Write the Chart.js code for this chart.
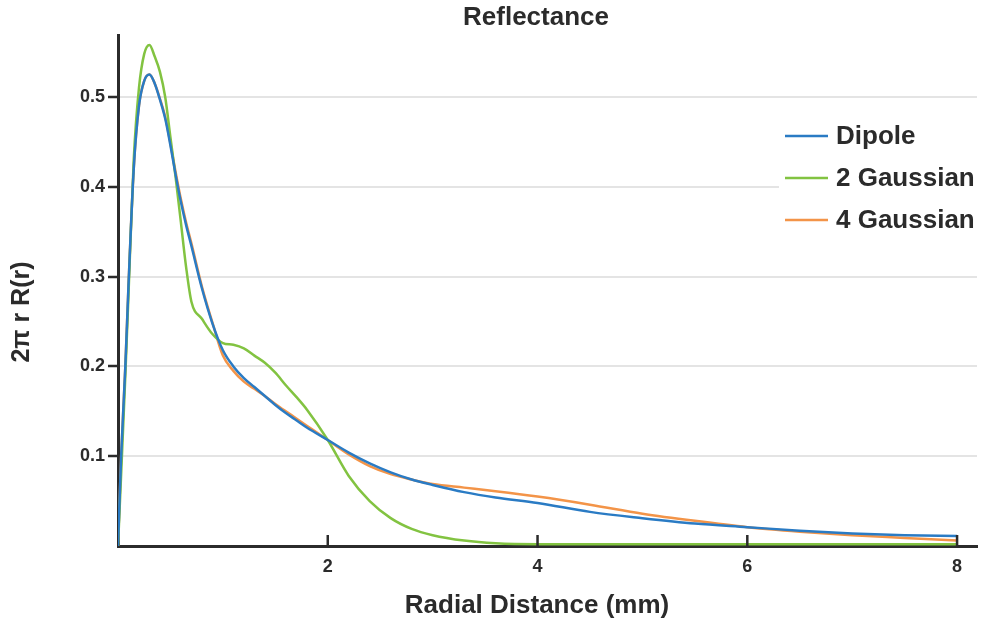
<!DOCTYPE html>
<html>
<head>
<meta charset="utf-8">
<title>Reflectance</title>
<script src="https://cdn.jsdelivr.net/npm/chart.js@4.4.1/dist/chart.umd.min.js"></script>
<style>
  html, body { margin: 0; padding: 0; background: #fff; }
  #wrap { width: 983px; height: 622px; }
</style>
</head>
<body>
<div id="wrap"><canvas id="chart" width="983" height="622"></canvas></div>
<script>
// radial distance (mm), shared by all three curves
var radius = [0, 0.03, 0.07, 0.1, 0.15, 0.2, 0.25, 0.3, 0.35, 0.4, 0.45, 0.5, 0.55, 0.6, 0.65, 0.7,
              0.8, 0.9, 1.0, 1.1, 1.2, 1.3, 1.4, 1.5, 1.6, 1.7, 1.8, 2.0, 2.2, 2.4, 2.6, 2.8, 3.0,
              3.3, 3.6, 4.0, 4.5, 5.0, 5.5, 6.0, 6.5, 7.0, 7.5, 8.0];

var dipole = [0, 0.10, 0.20, 0.29, 0.42, 0.49, 0.518, 0.525, 0.515, 0.497, 0.476, 0.446, 0.413, 0.383, 0.357, 0.334,
              0.287, 0.248, 0.218, 0.200, 0.187, 0.177, 0.167, 0.157, 0.148, 0.140, 0.132, 0.118, 0.104, 0.092, 0.082, 0.074, 0.068,
              0.060, 0.054, 0.048, 0.038, 0.031, 0.025, 0.021, 0.017, 0.014, 0.012, 0.011];

var gauss2 = [0, 0.08, 0.19, 0.28, 0.43, 0.51, 0.548, 0.558, 0.545, 0.528, 0.50, 0.455, 0.41, 0.36, 0.31, 0.272,
              0.253, 0.236, 0.226, 0.224, 0.220, 0.212, 0.204, 0.193, 0.179, 0.166, 0.152, 0.118, 0.078, 0.050, 0.031, 0.019, 0.012,
              0.006, 0.003, 0.002, 0.002, 0.002, 0.002, 0.002, 0.002, 0.002, 0.002, 0.002];

var gauss4 = [0, 0.10, 0.20, 0.29, 0.42, 0.49, 0.518, 0.525, 0.515, 0.498, 0.478, 0.448, 0.416, 0.386, 0.360, 0.337,
              0.289, 0.249, 0.212, 0.195, 0.183, 0.175, 0.167, 0.158, 0.150, 0.142, 0.134, 0.118, 0.102, 0.089, 0.080, 0.074, 0.069,
              0.065, 0.061, 0.055, 0.046, 0.036, 0.028, 0.021, 0.016, 0.012, 0.009, 0.006];

var seriesNames = ["Dipole", "2 Gaussian", "4 Gaussian"];
var xTickValues = [2, 4, 6, 8];
var yTickValues = [0.1, 0.2, 0.3, 0.4, 0.5];

var FONT = "'Liberation Sans', Arial, Helvetica, sans-serif";
var INK = "#2b2b2b";

function toPoints(ys) {
    return radius.map(function (r, i) { return { x: r, y: ys[i] }; });
}

// ticks on the x axis point up into the plot
var innerTicks = {
    id: "innerTicks",
    afterDraw: function (chart) {
        var ctx = chart.ctx, xs = chart.scales.x, bottom = chart.chartArea.bottom;
        ctx.save();
        ctx.strokeStyle = INK;
        ctx.lineWidth = 2.5;
        xTickValues.forEach(function (v) {
            var px = xs.getPixelForValue(v);
            ctx.beginPath();
            ctx.moveTo(px, bottom);
            ctx.lineTo(px, bottom - 11);
            ctx.stroke();
        });
        ctx.restore();
    }
};

// chart title and axis titles, placed like the original figure
var titles = {
    id: "titles",
    afterDraw: function (chart) {
        var ctx = chart.ctx;
        ctx.save();
        ctx.fillStyle = INK;
        ctx.textAlign = "center";
        ctx.textBaseline = "middle";
        ctx.font = "bold 26px " + FONT;
        ctx.fillText("Reflectance", 536, 18);
        ctx.fillText("Radial Distance (mm)", 537, 606);
        ctx.translate(22, 312);
        ctx.rotate(-Math.PI / 2);
        ctx.font = "bold 25px " + FONT;
        ctx.fillText("2π r R(r)", 0, 0);
        ctx.restore();
    }
};

// legend drawn inside the plot, top right
var insideLegend = {
    id: "insideLegend",
    afterDraw: function (chart) {
        var ctx = chart.ctx;
        ctx.save();
        ctx.fillStyle = "#fff";
        ctx.fillRect(779, 112, 204, 130);
        ctx.font = "bold 26px " + FONT;
        ctx.textBaseline = "middle";
        chart.data.datasets.forEach(function (ds, i) {
            var y = 136 + i * 42;
            ctx.strokeStyle = ds.borderColor;
            ctx.lineWidth = 2.5;
            ctx.beginPath();
            ctx.moveTo(785, y);
            ctx.lineTo(828, y);
            ctx.stroke();
            ctx.fillStyle = INK;
            ctx.fillText(ds.label, 836, y + 1);
        });
        ctx.restore();
    }
};

var ctx = document.getElementById("chart").getContext("2d");
var reflectanceChart = new Chart(ctx, {
    type: "line",
    data: {
        datasets: [
            { label: seriesNames[0], data: toPoints(dipole), borderColor: "#2a7bc4" },
            { label: seriesNames[1], data: toPoints(gauss2), borderColor: "#82c341" },
            { label: seriesNames[2], data: toPoints(gauss4), borderColor: "#f39448" }
        ]
    },
    options: {
        responsive: false,
        animation: false,
        events: [],
        layout: { padding: { left: 0, right: 6, top: 35, bottom: 0 } },
        elements: {
            point: { radius: 0 },
            line: { borderWidth: 2.5, cubicInterpolationMode: "monotone", fill: false }
        },
        scales: {
            x: {
                type: "linear",
                min: 0,
                max: 8.19,
                afterBuildTicks: function (scale) {
                    scale.ticks = xTickValues.map(function (v) { return { value: v }; });
                },
                afterFit: function (scale) { scale.height = 76; },
                grid: { display: false, drawTicks: false },
                border: { display: true, color: INK, width: 3 },
                ticks: {
                    padding: 10,
                    color: INK,
                    font: { family: FONT, size: 18, weight: "bold" }
                }
            },
            y: {
                min: 0,
                max: 0.569,
                afterBuildTicks: function (scale) {
                    scale.ticks = yTickValues.map(function (v) { return { value: v }; });
                },
                afterFit: function (scale) { scale.width = 118; },
                grid: {
                    color: "#e4e4e4",
                    lineWidth: 2,
                    tickColor: INK,
                    tickWidth: 2.5,
                    tickLength: 10
                },
                border: { display: true, color: INK, width: 3 },
                ticks: {
                    padding: 3,
                    color: INK,
                    font: { family: FONT, size: 18, weight: "bold" },
                    callback: function (v) { return v.toFixed(1); }
                }
            }
        },
        plugins: {
            legend: { display: false },
            tooltip: { enabled: false },
            title: { display: false }
        }
    },
    plugins: [innerTicks, titles, insideLegend]
});
</script>
</body>
</html>
